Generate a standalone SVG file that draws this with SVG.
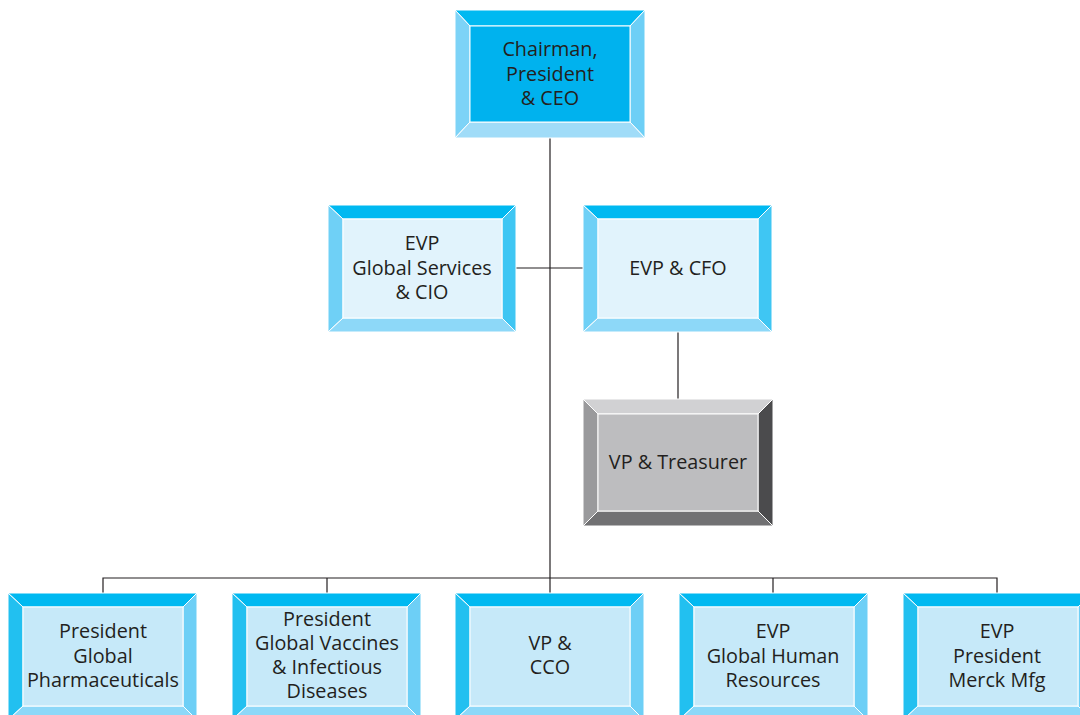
<svg xmlns="http://www.w3.org/2000/svg" width="1080" height="715" viewBox="0 0 1080 715">
<style>
.t{font-family:"Open Sans","Noto Sans",sans-serif;font-size:19.8px;fill:#231F20;text-anchor:middle}
.bv{stroke:#FFFFFF;stroke-width:1;stroke-linejoin:miter}
.top{fill:#00B9F1}
.ln{stroke:#231F20;stroke-width:1.2;fill:none}
</style>
<rect width="1080" height="715" fill="#FFFFFF"/>
<g id="connectors">
<path class="ln" d="M550,138 V578"/>
<path class="ln" d="M516,268 H583"/>
<path class="ln" d="M678,332 V399"/>
<path class="ln" d="M103,593 V578 H997 V593"/>
<path class="ln" d="M327,578 V593"/>
<path class="ln" d="M550,578 V593"/>
<path class="ln" d="M773,578 V593"/>
</g>
<g id="ceo">
<polygon class="bv top" points="455,10 645,10 630,26 470,26"/>
<polygon class="bv" fill="#7DD3F7" points="455,10 470,26 470,122 455,138"/>
<polygon class="bv" fill="#6DCFF6" points="645,10 645,138 630,122 630,26"/>
<polygon class="bv" fill="#A0DCF8" points="455,138 470,122 630,122 645,138"/>
<rect class="bv" x="470" y="26" width="160" height="96" fill="#00B2EE"/>
<text class="t" x="550" y="56">Chairman,</text>
<text class="t" x="550" y="81">President</text>
<text class="t" x="550" y="105">&amp; CEO</text>
</g>
<g id="evp-cio">
<polygon class="bv top" points="328,205 516,205 502,219 343,219"/>
<polygon class="bv" fill="#6FD0F6" points="328,205 343,219 343,318 328,332"/>
<polygon class="bv" fill="#3FC6F3" points="516,205 516,332 502,318 502,219"/>
<polygon class="bv" fill="#8DD8F8" points="328,332 343,318 502,318 516,332"/>
<rect class="bv" x="343" y="219" width="159" height="99" fill="#E1F3FC"/>
<text class="t" x="422" y="250">EVP</text>
<text class="t" x="422" y="275">Global Services</text>
<text class="t" x="422" y="299">&amp; CIO</text>
</g>
<g id="evp-cfo">
<polygon class="bv top" points="583,205 772,205 758,219 598,219"/>
<polygon class="bv" fill="#6FD0F6" points="583,205 598,219 598,318 583,332"/>
<polygon class="bv" fill="#3FC6F3" points="772,205 772,332 758,318 758,219"/>
<polygon class="bv" fill="#8DD8F8" points="583,332 598,318 758,318 772,332"/>
<rect class="bv" x="598" y="219" width="160" height="99" fill="#E1F3FC"/>
<text class="t" x="678" y="275">EVP &amp; CFO</text>
</g>
<g id="vp-treasurer">
<polygon class="bv" fill="#D1D1D3" points="583,399 773,399 758,414 598,414"/>
<polygon class="bv" fill="#9A9A9C" points="583,399 598,414 598,511 583,526"/>
<polygon class="bv" fill="#4B4B4D" points="773,399 773,526 758,511 758,414"/>
<polygon class="bv" fill="#717173" points="583,526 598,511 758,511 773,526"/>
<rect class="bv" x="598" y="414" width="160" height="97" fill="#BDBDBF"/>
<text class="t" x="678" y="469">VP &amp; Treasurer</text>
</g>
<g id="pres-pharma">
<polygon class="bv top" points="8,593 197,593 183,607 23,607"/>
<polygon class="bv" fill="#22C0F0" points="8,593 23,607 23,706 8,720"/>
<polygon class="bv" fill="#6DCFF6" points="197,593 197,720 183,706 183,607"/>
<polygon class="bv" fill="#8DD8F8" points="8,720 23,706 183,706 197,720"/>
<rect class="bv" x="23" y="607" width="160" height="99" fill="#C6E9F9"/>
<text class="t" x="103" y="638">President</text>
<text class="t" x="103" y="663">Global</text>
<text class="t" x="103" y="687">Pharmaceuticals</text>
</g>
<g id="pres-vaccines">
<polygon class="bv top" points="232,593 421,593 407,607 247,607"/>
<polygon class="bv" fill="#22C0F0" points="232,593 247,607 247,706 232,720"/>
<polygon class="bv" fill="#6DCFF6" points="421,593 421,720 407,706 407,607"/>
<polygon class="bv" fill="#8DD8F8" points="232,720 247,706 407,706 421,720"/>
<rect class="bv" x="247" y="607" width="160" height="99" fill="#C6E9F9"/>
<text class="t" x="327" y="626">President</text>
<text class="t" x="327" y="650">Global Vaccines</text>
<text class="t" x="327" y="674">&amp; Infectious</text>
<text class="t" x="327" y="698">Diseases</text>
</g>
<g id="vp-cco">
<polygon class="bv top" points="455,593 644,593 630,607 470,607"/>
<polygon class="bv" fill="#22C0F0" points="455,593 470,607 470,706 455,720"/>
<polygon class="bv" fill="#6DCFF6" points="644,593 644,720 630,706 630,607"/>
<polygon class="bv" fill="#8DD8F8" points="455,720 470,706 630,706 644,720"/>
<rect class="bv" x="470" y="607" width="160" height="99" fill="#C6E9F9"/>
<text class="t" x="550" y="650">VP &amp;</text>
<text class="t" x="550" y="674">CCO</text>
</g>
<g id="evp-hr">
<polygon class="bv top" points="679,593 868,593 854,607 694,607"/>
<polygon class="bv" fill="#22C0F0" points="679,593 694,607 694,706 679,720"/>
<polygon class="bv" fill="#6DCFF6" points="868,593 868,720 854,706 854,607"/>
<polygon class="bv" fill="#8DD8F8" points="679,720 694,706 854,706 868,720"/>
<rect class="bv" x="694" y="607" width="160" height="99" fill="#C6E9F9"/>
<text class="t" x="773" y="638">EVP</text>
<text class="t" x="773" y="663">Global Human</text>
<text class="t" x="773" y="687">Resources</text>
</g>
<g id="evp-mfg">
<polygon class="bv top" points="903,593 1092,593 1078,607 918,607"/>
<polygon class="bv" fill="#22C0F0" points="903,593 918,607 918,706 903,720"/>
<polygon class="bv" fill="#6DCFF6" points="1092,593 1092,720 1078,706 1078,607"/>
<polygon class="bv" fill="#8DD8F8" points="903,720 918,706 1078,706 1092,720"/>
<rect class="bv" x="918" y="607" width="160" height="99" fill="#C6E9F9"/>
<text class="t" x="997" y="638">EVP</text>
<text class="t" x="997" y="663">President</text>
<text class="t" x="997" y="687">Merck Mfg</text>
</g>
</svg>
